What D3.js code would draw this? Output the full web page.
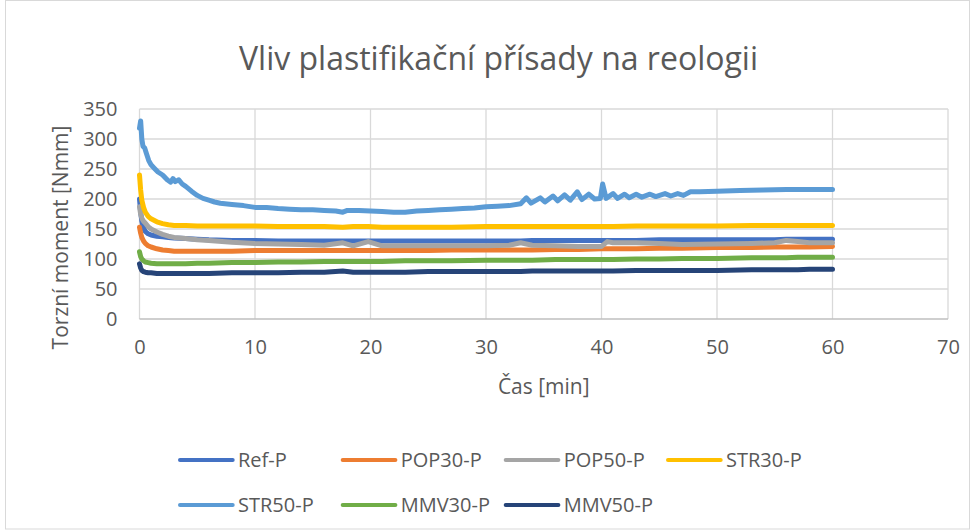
<!DOCTYPE html>
<html>
<head>
<meta charset="utf-8">
<script src="https://cdn.jsdelivr.net/npm/d3@7"></script>
<style>
  html, body { margin: 0; padding: 0; background: #fff; }
  svg { display: block; font-family: "Open Sans", "Noto Sans", sans-serif; }
</style>
</head>
<body>
<svg id="chart" width="975" height="530"></svg>
<script>
// Torque curves over mixing time (min) for each plasticiser mix
const seriesNames = ["Ref-P", "POP30-P", "POP50-P", "STR30-P", "STR50-P", "MMV30-P", "MMV50-P"];
const seriesColors = ["#4472C4", "#ED7D31", "#A5A5A5", "#FFC000", "#5B9BD5", "#70AD47", "#264478"];

const timeMain = [0, 0.1, 0.2, 0.35, 0.5, 0.75, 1, 1.5, 2, 2.5, 3, 4, 5, 6, 8, 10, 12, 14, 16, 17.6, 18.5, 19.8, 21, 23, 25, 27, 30, 32, 33, 34, 36, 38, 40, 40.5, 41, 43, 45, 47, 50, 53, 55, 56, 57, 58, 60];

const refP   = [200, 178, 163, 152, 146, 142, 140, 138, 137, 136, 135, 134, 133, 132, 131, 131, 130, 130, 130, 130, 130, 130, 130, 130, 130, 130, 130, 130, 130, 131, 131, 131, 131, 131, 131, 131, 132, 132, 132, 132, 132, 133, 133, 133, 133];
const pop30P = [153, 143, 136, 130, 126, 122, 120, 117, 115, 114, 113, 113, 113, 113, 113, 114, 114, 114, 114, 114, 114, 114, 114, 114, 114, 115, 115, 115, 115, 115, 116, 116, 117, 117, 117, 117, 118, 118, 119, 119, 120, 120, 120, 120, 121];
const pop50P = [187, 175, 168, 163, 160, 154, 150, 145, 141, 138, 136, 134, 132, 131, 128, 126, 125, 124, 123, 127, 122, 129, 122, 122, 122, 122, 122, 123, 127, 123, 122, 121, 121, 129, 127, 127, 126, 124, 125, 126, 127, 131, 129, 127, 127];
const str30P = [240, 215, 198, 186, 178, 171, 167, 162, 159, 157, 156, 156, 155, 155, 155, 155, 154, 154, 154, 153, 154, 154, 153, 153, 153, 153, 154, 154, 154, 154, 154, 154, 154, 154, 154, 155, 155, 155, 155, 156, 156, 156, 156, 156, 156];
const mmv30P = [112, 104, 100, 97, 95, 94, 93, 92, 92, 92, 92, 92, 93, 93, 94, 94, 95, 95, 96, 96, 96, 96, 96, 97, 97, 97, 98, 98, 98, 98, 99, 99, 99, 99, 99, 100, 100, 101, 101, 102, 102, 102, 103, 103, 103];
const mmv50P = [92, 85, 81, 79, 78, 77, 77, 76, 76, 76, 76, 76, 76, 76, 77, 77, 77, 78, 78, 80, 78, 78, 78, 78, 79, 79, 79, 79, 79, 80, 80, 80, 80, 80, 80, 81, 81, 81, 81, 82, 82, 82, 82, 83, 83];

// STR50-P is sampled more finely: it is the noisiest curve
const timeStr50 = [0, 0.1, 0.2, 0.3, 0.45, 0.6, 0.8, 1.0, 1.3, 1.6, 2.0, 2.4, 2.7, 2.9, 3.1, 3.4, 3.7, 4.0, 4.5, 5.0, 5.5, 6.0, 6.5, 7, 8, 9, 10, 11, 12, 13, 14, 15, 16, 17, 17.6, 18, 19, 20, 21, 22, 23, 24, 25, 26, 27, 28, 29, 30, 31, 32, 33, 33.5, 33.9, 34.7, 35.1, 35.8, 36.2, 36.8, 37.3, 37.9, 38.3, 38.9, 39.4, 39.9, 40.1, 40.4, 41, 41.4, 42, 42.4, 43, 43.5, 44.2, 44.7, 45.5, 46, 46.6, 47.1, 47.7, 48.5, 50, 52, 54, 56, 58, 60];
const str50P = [318, 330, 300, 288, 285, 276, 264, 257, 251, 245, 240, 232, 228, 234, 229, 232, 225, 221, 213, 206, 201, 198, 195, 193, 191, 189, 186, 186, 184, 183, 182, 182, 181, 180, 178, 181, 181, 180, 179, 178, 178, 180, 181, 182, 183, 184, 185, 187, 188, 189, 192, 202, 193, 202, 195, 205, 197, 207, 198, 212, 199, 208, 200, 201, 225, 201, 209, 201, 208, 202, 208, 203, 208, 204, 209, 205, 209, 206, 212, 212, 213, 214, 215, 216, 216, 216];

const xTicks = [0, 10, 20, 30, 40, 50, 60, 70];
const yTicks = [0, 50, 100, 150, 200, 250, 300, 350];

const chartTitle = "Vliv plastifikační přísady na reologii";
const xTitle = "Čas [min]";
const yTitle = "Torzní moment [Nmm]";

const series = [
  { name: seriesNames[0], color: seriesColors[0], t: timeMain, v: refP },
  { name: seriesNames[1], color: seriesColors[1], t: timeMain, v: pop30P },
  { name: seriesNames[2], color: seriesColors[2], t: timeMain, v: pop50P },
  { name: seriesNames[3], color: seriesColors[3], t: timeMain, v: str30P },
  { name: seriesNames[4], color: seriesColors[4], t: timeStr50, v: str50P },
  { name: seriesNames[5], color: seriesColors[5], t: timeMain, v: mmv30P },
  { name: seriesNames[6], color: seriesColors[6], t: timeMain, v: mmv50P }
];

const textColor = "#595959";
const gridColor = "#D9D9D9";

const svg = d3.select("#chart");
const plot = { left: 139.5, right: 948, top: 109, bottom: 319 };

const x = d3.scaleLinear().domain([0, 70]).range([plot.left, plot.right]);
const y = d3.scaleLinear().domain([0, 350]).range([plot.bottom, plot.top]);

// chart frame
svg.append("rect")
  .attr("x", 5.5).attr("y", 0.5).attr("width", 964).attr("height", 528.5)
  .attr("fill", "#fff").attr("stroke", gridColor).attr("stroke-width", 1);

// title
svg.append("text")
  .attr("x", 498.5).attr("y", 69.5)
  .attr("text-anchor", "middle")
  .attr("font-size", 32).attr("fill", textColor)
  .text(chartTitle);

// gridlines
const grid = svg.append("g");
grid.selectAll("line.h").data(yTicks.filter(d => d > 0)).join("line")
  .attr("x1", plot.left).attr("x2", plot.right)
  .attr("y1", d => y(d)).attr("y2", d => y(d))
  .attr("stroke", gridColor).attr("stroke-width", 1.3);
grid.selectAll("line.v").data(xTicks).join("line")
  .attr("x1", d => x(d)).attr("x2", d => x(d))
  .attr("y1", plot.top).attr("y2", plot.bottom)
  .attr("stroke", gridColor).attr("stroke-width", 1.3);
grid.append("line")
  .attr("x1", plot.left).attr("x2", plot.right)
  .attr("y1", y(0)).attr("y2", y(0))
  .attr("stroke", "#BFBFBF").attr("stroke-width", 1.3);

// axes (labels only)
const yAxis = svg.append("g")
  .attr("transform", `translate(${plot.left},0)`)
  .call(d3.axisLeft(y).tickValues(yTicks).tickSize(0).tickPadding(22));
const xAxis = svg.append("g")
  .attr("transform", `translate(0,${plot.bottom})`)
  .call(d3.axisBottom(x).tickValues(xTicks).tickSize(0).tickPadding(21));
[yAxis, xAxis].forEach(g => {
  g.select(".domain").remove();
  g.selectAll("text")
    .attr("fill", textColor)
    .attr("font-size", 20)
    .attr("font-family", "'Open Sans', 'Noto Sans', sans-serif");
});

// axis titles
svg.append("text")
  .attr("transform", "translate(68,237.5) rotate(-90)")
  .attr("text-anchor", "middle")
  .attr("font-size", 21).attr("fill", textColor)
  .text(yTitle);
svg.append("text")
  .attr("x", (plot.left + plot.right) / 2).attr("y", 394)
  .attr("text-anchor", "middle")
  .attr("font-size", 21).attr("fill", textColor)
  .text(xTitle);

// data lines
const line = d3.line().x(d => x(d[0])).y(d => y(d[1]));
svg.append("g").selectAll("path").data(series).join("path")
  .attr("d", s => line(s.t.map((t, i) => [t, s.v[i]])))
  .attr("fill", "none")
  .attr("stroke", s => s.color)
  .attr("stroke-width", 5)
  .attr("stroke-linejoin", "round")
  .attr("stroke-linecap", "round");

// legend: two rows, four columns
const legendCols = [180, 342.7, 505.7, 668];
const legendRows = [460, 505];
const legend = svg.append("g").selectAll("g").data(series).join("g")
  .attr("transform", (s, i) => `translate(${legendCols[i % 4]},${legendRows[Math.floor(i / 4)]})`);
legend.append("line")
  .attr("x1", 0).attr("x2", 52.7).attr("y1", 0).attr("y2", 0)
  .attr("stroke", s => s.color).attr("stroke-width", 4)
  .attr("stroke-linecap", "round");
legend.append("text")
  .attr("x", 58).attr("y", 0).attr("dy", "0.35em")
  .attr("font-size", 20).attr("fill", textColor)
  .text(s => s.name);
</script>
</body>
</html>
